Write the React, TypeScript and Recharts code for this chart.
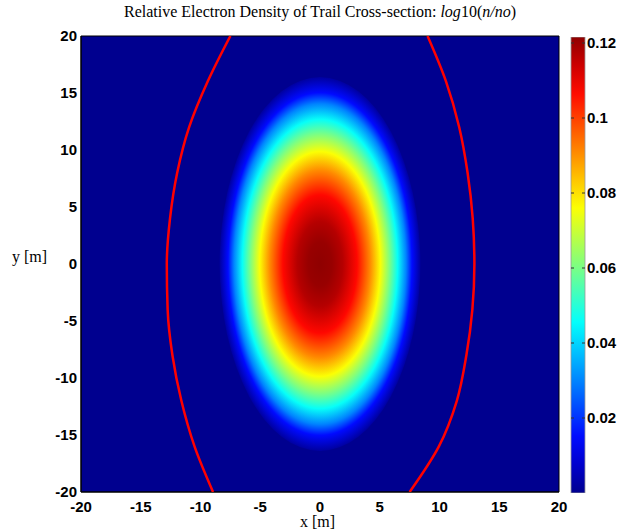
import React from "react";
import {
  Bar,
  BarChart,
  ComposedChart,
  ReferenceArea,
  ReferenceLine,
  Scatter,
  XAxis,
  YAxis,
} from "recharts";

const X_TICKS = [-20, -15, -10, -5, 0, 5, 10, 15, 20];
const Y_TICKS = [-20, -15, -10, -5, 0, 5, 10, 15, 20];
const CBAR_TICKS = [0.02, 0.04, 0.06, 0.08, 0.1, 0.12];
const DENSITY_MIN = 0;
const DENSITY_MAX = 0.1216;

// density (y = 0), vs distance from centre [m]
const PROFILE_DENSITY = [0.1216, 0.1205, 0.117, 0.107, 0.091, 0.076, 0.061, 0.046, 0.03, 0.015, 0.002];
const PROFILE_DIST = [0, 1.0, 1.9, 3.1, 4.2, 5.05, 5.8, 6.5, 7.2, 7.7, 8.4];
const TRAIL_HALF_X = 8.4;
const TRAIL_HALF_Y = 16.4;

// red boundary
const ARC_Y = [20, 16, 12, 8, 4, 0, -4, -8, -12, -16, -20];
const LEFT_ARC_X = [-7.5, -9.4, -10.95, -11.95, -12.55, -12.82, -12.75, -12.35, -11.6, -10.5, -8.95];
const RIGHT_ARC_X = [9.0, 10.55, 11.65, 12.35, 12.78, 12.92, 12.75, 12.25, 11.45, 9.95, 7.5];

const leftArc = LEFT_ARC_X.map((x, i) => ({ x, y: ARC_Y[i] }));
const rightArc = RIGHT_ARC_X.map((x, i) => ({ x, y: ARC_Y[i] }));
const cbarData = [{ name: "density", v: DENSITY_MAX }];

// matlab style jet colormap (64 bins -> ends at 0.5625)
const jet = (v: number) => {
  let t = (v - DENSITY_MIN) / (DENSITY_MAX - DENSITY_MIN);
  t = 0.0156 + Math.min(1, Math.max(0, t)) * 0.969;
  const c = (k: number) => Math.round(255 * Math.min(1, Math.max(0, 1.5 - Math.abs(4 * t - k))));
  return `rgb(${c(3)},${c(2)},${c(1)})`;
};

const BG = jet(DENSITY_MIN);
const tickFont = { fontSize: 15, fontWeight: 700, fill: "#000", fontFamily: "Liberation Sans, Arial, sans-serif" };
const serif = "Liberation Serif, Times New Roman, serif";

const TrailShape = (props: any) => {
  const { x, y, width, height } = props;
  return (
    <g>
      <defs>
        <radialGradient id="trailGrad" cx="50%" cy="50%" r="50%">
          {PROFILE_DENSITY.map((d, i) => (
            <stop key={i} offset={PROFILE_DIST[i] / TRAIL_HALF_X} stopColor={jet(d)} />
          ))}
        </radialGradient>
      </defs>
      <ellipse
        cx={x + width / 2}
        cy={y + height / 2}
        rx={width / 2}
        ry={height / 2}
        fill="url(#trailGrad)"
      />
    </g>
  );
};

const ColorbarShape = (props: any) => {
  const { x, y, width, height } = props;
  const n = 16;
  return (
    <g>
      <defs>
        <linearGradient id="cbarGrad" x1="0" y1="1" x2="0" y2="0">
          {Array.from({ length: n + 1 }, (_, i) => (
            <stop
              key={i}
              offset={i / n}
              stopColor={jet(DENSITY_MIN + ((DENSITY_MAX - DENSITY_MIN) * i) / n)}
            />
          ))}
        </linearGradient>
      </defs>
      <rect x={x} y={y} width={width} height={height} fill="url(#cbarGrad)" stroke="#999" strokeWidth={0.8} />
    </g>
  );
};

const noDot = () => <g />;

export default function App() {
  return (
    <div style={{ position: "absolute", left: 0, top: 0, width: 621, height: 531, background: "#fff" }}>
      <div
        style={{
          position: "absolute",
          left: 0,
          width: 640,
          top: 3,
          textAlign: "center",
          fontFamily: serif,
          fontSize: 16,
          whiteSpace: "nowrap",
        }}
      >
        Relative Electron Density of Trail Cross-section: <i>log</i>10(<i>n/no</i>)
      </div>
      <div style={{ position: "absolute", left: 12, top: 248, fontFamily: serif, fontSize: 16 }}>y [m]</div>
      <div style={{ position: "absolute", left: 300, top: 513, fontFamily: serif, fontSize: 16, lineHeight: "18px" }}>
        x [m]
      </div>

      <div style={{ position: "absolute", left: 0, top: 0 }}>
        <ComposedChart width={621} height={531} margin={{ top: 36, right: 62, bottom: 9, left: 31 }}>
          <XAxis
            type="number"
            dataKey="x"
            domain={[-20, 20]}
            ticks={X_TICKS}
            allowDataOverflow
            height={30}
            tickLine={false}
            tickSize={4}
            tickMargin={5}
            axisLine={{ stroke: "#000" }}
            tick={tickFont}
          />
          <YAxis
            type="number"
            dataKey="y"
            domain={[-20, 20]}
            ticks={Y_TICKS}
            allowDataOverflow
            width={50}
            tickLine={false}
            tickSize={2}
            tickMargin={2}
            axisLine={{ stroke: "#000" }}
            tick={tickFont}
          />
          <ReferenceArea x1={-20} x2={20} y1={-20} y2={20} fill={BG} fillOpacity={1} stroke="#000" strokeWidth={1} />
          <ReferenceArea
            x1={-TRAIL_HALF_X}
            x2={TRAIL_HALF_X}
            y1={-TRAIL_HALF_Y}
            y2={TRAIL_HALF_Y}
            shape={TrailShape}
          />
          <Scatter
            data={leftArc}
            line={{ stroke: "#ff0000", strokeWidth: 2.5 }}
            lineJointType="monotoneY"
            shape={noDot}
            isAnimationActive={false}
          />
          <Scatter
            data={rightArc}
            line={{ stroke: "#ff0000", strokeWidth: 2.5 }}
            lineJointType="monotoneY"
            shape={noDot}
            isAnimationActive={false}
          />
        </ComposedChart>
      </div>

      <div style={{ position: "absolute", left: 560, top: 0 }}>
        <BarChart
          width={61}
          height={531}
          data={cbarData}
          barCategoryGap={0}
          margin={{ top: 37, right: 0, bottom: 38, left: 11 }}
        >
          <XAxis dataKey="name" hide />
          <YAxis
            type="number"
            orientation="right"
            domain={[DENSITY_MIN, DENSITY_MAX]}
            ticks={CBAR_TICKS}
            allowDataOverflow
            width={36}
            tickLine={false}
            axisLine={false}
            tickSize={1}
            tickMargin={1}
            tick={tickFont}
          />
          <Bar dataKey="v" shape={ColorbarShape} isAnimationActive={false} />
          {CBAR_TICKS.map((t) => (
            <ReferenceLine key={t} y={t} stroke="#333" strokeDasharray="3 8 3" strokeWidth={1} />
          ))}
        </BarChart>
      </div>
    </div>
  );
}
